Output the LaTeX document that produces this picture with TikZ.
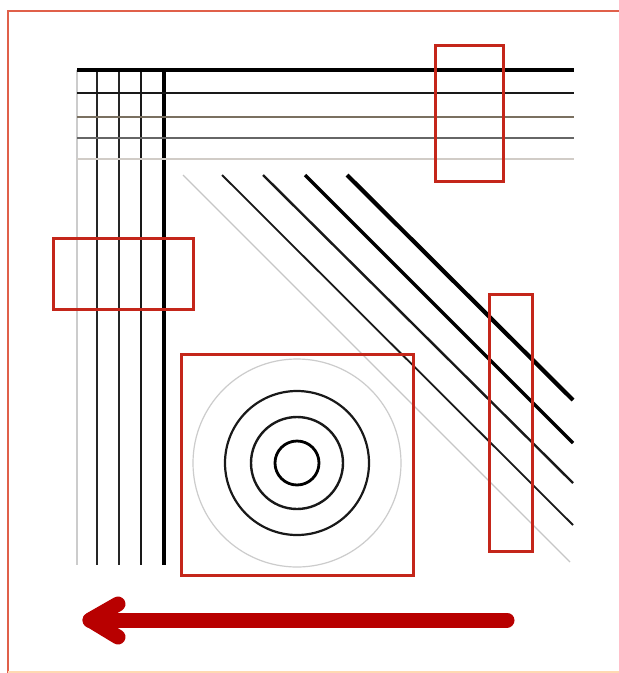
\documentclass[tikz,border=0pt]{standalone}
\begin{document}
\begin{tikzpicture}[x=1pt,y=-1pt,
  redbox/.style={draw=boxred,line width=3pt},
  bigarrow/.style={draw=arrowred,line width=15pt,line cap=round,line join=round}]
\definecolor{boxred}{HTML}{C4261A}
\definecolor{arrowred}{HTML}{B80000}
\definecolor{framered}{HTML}{E0604A}
\definecolor{tan}{HTML}{7A7060}
\useasboundingbox (0,0) rectangle (619,673);
\fill[white] (0,0) rectangle (619,673);
% frame
\draw[framered,line width=1.2pt] (8,673) -- (8,11) -- (619,11);
\draw[orange!30,line width=1.5pt] (8,672) -- (619,672);
% vertical lines
\draw[gray!40,line width=1.2pt] (77,70) -- (77,565);
\draw[black!85,line width=2.2pt] (97,70) -- (97,565);
\draw[black!85,line width=2.5pt] (119,70) -- (119,565);
\draw[black!90,line width=2.8pt] (141,70) -- (141,565);
\draw[black,line width=3.4pt] (164,70) -- (164,565);
% horizontal lines
\draw[black,line width=3.4pt] (77,70) -- (574,70);
\draw[black!90,line width=2.8pt] (77,93) -- (574,93);
\draw[tan,line width=2.4pt] (77,117) -- (574,117);
\draw[black!60,line width=2pt] (77,138) -- (574,138);
\draw[brown!20!gray!40,line width=1.2pt] (77,159) -- (574,159);
% diagonals
\draw[gray!45,line width=1.2pt] (183,175) -- (570,562);
\draw[black!90,line width=1.8pt] (222,175) -- (573,525);
\draw[black!90,line width=2.4pt] (263,175) -- (573,483);
\draw[black,line width=3.2pt] (305,175) -- (573,443);
\draw[black,line width=4.2pt] (347,175) -- (573,400);
% circles
\coordinate (c) at (297,463);
\draw[gray!40,line width=1.2pt] (c) circle[radius=104];
\draw[black!90,line width=2.2pt] (c) circle[radius=72];
\draw[black!90,line width=2.4pt] (c) circle[radius=46];
\draw[black,line width=2.8pt] (c) circle[radius=22];
% red boxes
\draw[redbox] (435,45) rectangle (503,181);
\draw[redbox] (53,238) rectangle (193,309);
\draw[redbox] (489,294) rectangle (532,551);
\draw[redbox] (181,354) rectangle (413,575);
% arrow
\coordinate (tip) at (90,620);
\coordinate (tail) at (507,620);
\draw[bigarrow] (tail) -- (tip);
\draw[bigarrow] (118,604) -- (tip) -- (118,637);
\end{tikzpicture}
\end{document}
